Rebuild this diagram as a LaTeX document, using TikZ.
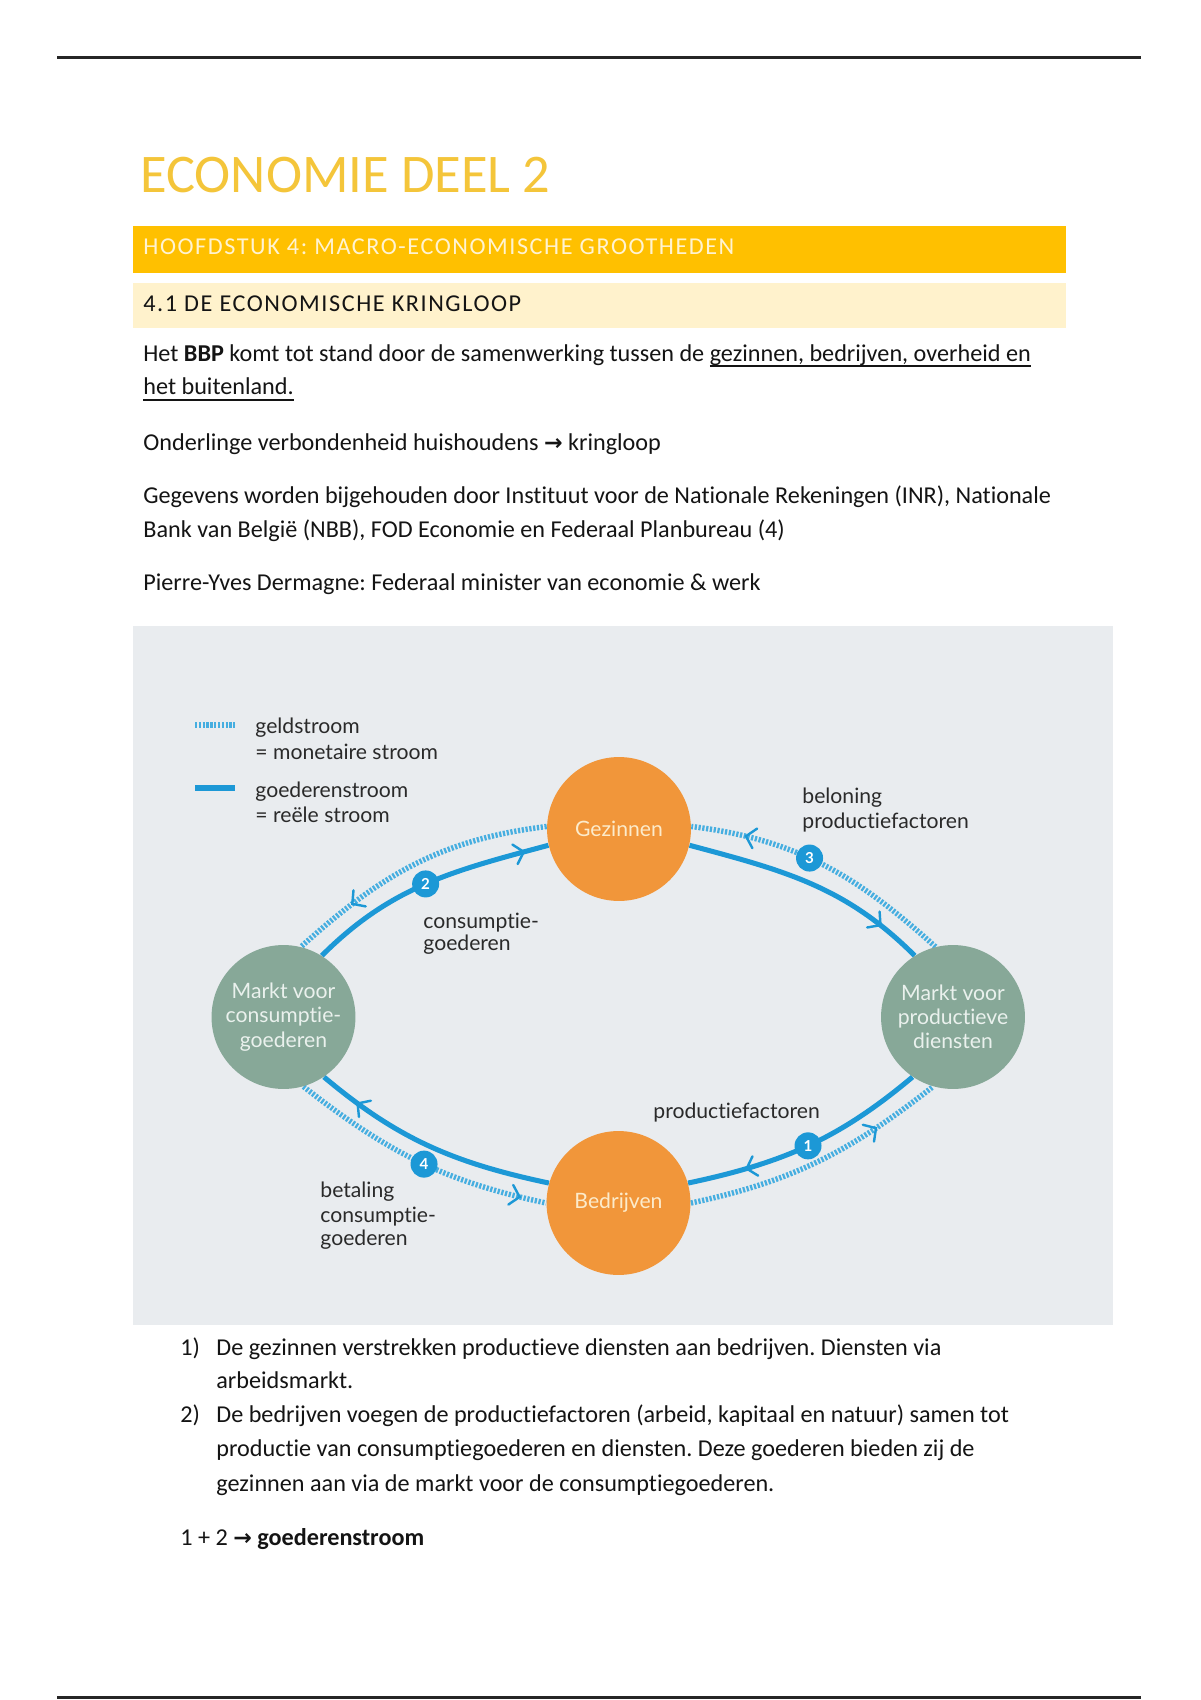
\documentclass[tikz,border=0pt]{standalone}
\usepackage{fontspec}
\setmainfont{Carlito}[Ligatures=NoCommon]
\newfontfamily\lato{Lato}[Ligatures=NoCommon]
\newfontfamily\djv{DejaVu Sans}
\usetikzlibrary{decorations.markings}
\frenchspacing
\definecolor{gold}{HTML}{F4C53A}
\definecolor{hbar}{HTML}{FFC000}
\definecolor{htext}{HTML}{FFF3D1}
\definecolor{lbar}{HTML}{FFF2CC}
\definecolor{diabg}{HTML}{E9ECEF}
\definecolor{orng}{HTML}{F1963A}
\definecolor{sage}{HTML}{87A898}
\definecolor{flowblue}{HTML}{1C98D6}
\definecolor{moneyblue}{HTML}{46AEE0}
\definecolor{txt}{HTML}{141414}
\definecolor{dtxt}{HTML}{2A2A2A}
\definecolor{orngtxt}{HTML}{FCEBCB}
\definecolor{sagetxt}{HTML}{EAF1ED}
\newsavebox\ulbox
\newcommand\myul[1]{\sbox\ulbox{#1}\rlap{\raisebox{-3pt}{\rule{\wd\ulbox}{0.9pt}}}\usebox\ulbox}
\newcommand\rarr{{\djv\bfseries\fontsize{11}{13}\selectfont →}}
\pgfdeclarelayer{bottom}
\pgfdeclarelayer{lines}
\pgfsetlayers{bottom,lines,main}
\tikzset{
  body/.style={anchor=base west, inner sep=0pt, text=txt, font=\fontsize{12}{14}\selectfont},
  dlabel/.style={anchor=base west, inner sep=0pt, text=dtxt, font=\lato\fontsize{10.5}{12}\selectfont},
  hh/.style={circle, fill=orng, minimum size=71.4pt, inner sep=0pt, align=center, text=orngtxt, font=\lato\fontsize{10.5}{12}\selectfont},
  mkt/.style={hh, fill=sage, text=sagetxt},
  goods/.style={line width=2.5pt, draw=flowblue},
  money/.style={line width=2.7pt, draw=moneyblue, dash pattern=on 1.1pt off 0.8pt},
  chev/.style={postaction={decorate, decoration={markings, mark=at position #1 with {\draw[solid, line width=1.2pt, draw=flowblue, line cap=round, line join=miter] (-4.5pt,5pt) -- (0pt,0pt) -- (-4.5pt,-5pt);}}}},
  badge/.style={circle, fill=flowblue, minimum size=13.4pt, inner sep=0pt, text=white, font=\lato\bfseries\fontsize{7.5}{8}\selectfont},
  headtxt/.style={anchor=base west, inner sep=0pt, font=\fontsize{12}{14}\selectfont\addfontfeatures{LetterSpace=6.5}},
}
\begin{document}
\begin{tikzpicture}[x=0.49608pt, y=-0.49608pt]
\useasboundingbox (0,0) rectangle (1200,1700);
\begin{pgfonlayer}{bottom}
\fill[white] (0,0) rectangle (1200,1700);
\fill[diabg] (133,626) rectangle (1113,1325);
\end{pgfonlayer}
% page rules
\draw[line width=1.3pt, draw=black!85] (57,57.5) -- (1141,57.5);
\draw[line width=1.3pt, draw=black!85] (57,1697.5) -- (1141,1697.5);
% title and headings
\node[anchor=base west, inner sep=0pt, text=gold, font=\fontsize{27}{30}\selectfont] (title) at (140,193) {ECONOMIE DEEL 2};
\fill[hbar] (133,226) rectangle (1066,273);
\node[headtxt, text=htext] (h1) at (143,255) {HOOFDSTUK 4: MACRO-ECONOMISCHE GROOTHEDEN};
\fill[lbar] (133,283) rectangle (1066,328);
\node[headtxt, text=txt] (h2) at (143,312) {4.1 DE ECONOMISCHE KRINGLOOP};
% body text
\node[body] (p1) at (143,361) {Het \textbf{BBP} komt tot stand door de samenwerking tussen de \myul{gezinnen, bedrijven, overheid en}};
\node[body] (p2) at (143,395) {\myul{het buitenland.}};
\node[body] (p3) at (143,450) {Onderlinge verbondenheid huishoudens \rarr{} kringloop};
\node[body] (p4) at (143,503) {Gegevens worden bijgehouden door Instituut voor de Nationale Rekeningen (INR), Nationale};
\node[body] (p5) at (143,537) {Bank van België (NBB), FOD Economie en Federaal Planbureau (4)};
\node[body] (p6) at (143,590) {Pierre-Yves Dermagne: Federaal minister van economie \& werk};
% legend
\draw[money] (195,725) -- (235,725);
\draw[goods] (195,788) -- (235,788);
\node[dlabel] (lg1) at (255,733) {geldstroom};
\node[dlabel] (lg2) at (255,759) {= monetaire stroom};
\node[dlabel] (lg3) at (255,797) {goederenstroom};
\node[dlabel] (lg4) at (255,822) {= reële stroom};
% circles
\node[hh] (gez) at (619,829) {Gezinnen};
\node[hh] (bed) at (618.5,1203) {Bedrijven};
\node[mkt] (mc) at (283.5,1017) {Markt voor\\consumptie-\\goederen};
\node[mkt] (mp) at (953,1017) {Markt voor\\productieve\\diensten};
% flows
\begin{pgfonlayer}{lines}
\draw[goods, chev=0.9] (mc.58) to[out=45, in=195] node[badge, pos=0.5] (n2) {2} (gez.193);
\draw[money, chev=0.76] (gez.178) to[out=187, in=42] (mc.76);
\draw[goods, chev=0.82] (gez.-13) to[out=-15, in=135] (mp.122);
\draw[money, chev=0.8] (mp.104) to[out=138, in=-7] node[badge, pos=0.56] (n3) {3} (gez.2);
\draw[goods, chev=0.76] (mp.236) to[out=220, in=12] node[badge, pos=0.5] (n1) {1} (bed.16);
\draw[money, chev=0.74] (bed.0) to[out=12, in=218] (mp.254);
\draw[goods, chev=0.83] (bed.164) to[out=168, in=-40] (mc.-56);
\draw[money, chev=0.9] (mc.-74) to[out=-38, in=168] node[badge, pos=0.53] (n4) {4} (bed.180);
\end{pgfonlayer}
% flow labels
\node[dlabel] (l2a) at (423,928) {consumptie-};
\node[dlabel] (l2b) at (423,950) {goederen};
\node[dlabel] (l3a) at (802,803) {beloning};
\node[dlabel] (l3b) at (802,828) {productiefactoren};
\node[dlabel] (l1a) at (653,1118) {productiefactoren};
\node[dlabel] (l4a) at (320,1197) {betaling};
\node[dlabel] (l4b) at (320,1222) {consumptie-};
\node[dlabel] (l4c) at (320,1245) {goederen};
% list
\node[body] (i1) at (180,1355) {1)};
\node[body] (t1a) at (216,1355) {De gezinnen verstrekken productieve diensten aan bedrijven. Diensten via};
\node[body] (t1b) at (216,1388) {arbeidsmarkt.};
\node[body] (i2) at (180,1422) {2)};
\node[body] (t2a) at (216,1422) {De bedrijven voegen de productiefactoren (arbeid, kapitaal en natuur) samen tot};
\node[body] (t2b) at (216,1456) {productie van consumptiegoederen en diensten. Deze goederen bieden zij de};
\node[body] (t2c) at (216,1491) {gezinnen aan via de markt voor de consumptiegoederen.};
\node[body] (sum) at (180,1545) {1 + 2 \rarr{} \textbf{goederenstroom}};
\end{tikzpicture}
\end{document}
